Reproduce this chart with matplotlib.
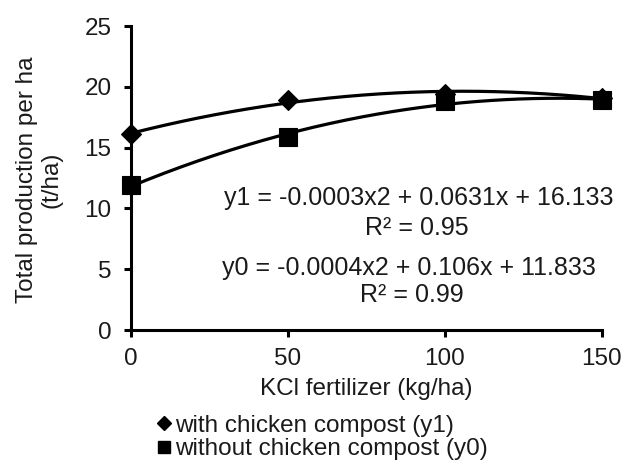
import numpy as np
import matplotlib
matplotlib.use("Agg")
import matplotlib.pyplot as plt
from matplotlib.lines import Line2D

plt.rcParams['font.family'] = ['Liberation Sans', 'DejaVu Sans']

kcl = [0, 50, 100, 150]
with_compost = [16.1, 18.9, 19.4, 19.1]
without_compost = [11.9, 15.9, 18.8, 18.9]
label_y1 = "with chicken compost (y1)"
label_y0 = "without chicken compost (y0)"
eq_y1 = "y1 = -0.0003x2 + 0.0631x + 16.133"
r2_y1 = "R² = 0.95"
eq_y0 = "y0 = -0.0004x2 + 0.106x + 11.833"
r2_y0 = "R² = 0.99"

TXT = '#1a1a1a'
FS = 17.5

fig = plt.figure(figsize=(6.41, 4.62), dpi=100)
ax = fig.add_axes([0.2044, 0.2857, 0.7346, 0.658])

xs = np.linspace(0, 150, 200)
for vals, marker, ms in [(with_compost, 'D', 10.5), (without_compost, 's', 12.5)]:
    c = np.polyfit(kcl, vals, 2)
    ax.plot(xs, np.polyval(c, xs), color='black', lw=2.3, zorder=2)
    ax.plot(kcl, vals, linestyle='none', marker=marker, ms=ms, color='black',
            mec='black', mew=0.8, zorder=3, clip_on=False)

ax.set_xlim(0, 150)
ax.set_ylim(0, 25)
ax.set_xticks([0, 50, 100, 150])
ax.set_yticks([0, 5, 10, 15, 20, 25])
for s in ['top', 'right']:
    ax.spines[s].set_visible(False)
for s in ['left', 'bottom']:
    ax.spines[s].set_linewidth(2.2)
ax.tick_params(axis='both', width=2.2, length=5, labelsize=FS, colors='black',
               labelcolor=TXT)
ax.tick_params(axis='y', pad=9)
ax.tick_params(axis='x', pad=8)
ax.set_xlabel("KCl fertilizer (kg/ha)", fontsize=FS, color=TXT, labelpad=6)
fig.text(39.5 / 641, 1 - 180 / 462, "Total production per ha\n(t/ha)", rotation=90,
         ha='center', va='center', fontsize=FS, color=TXT, linespacing=1.17)

def px(x, y):
    return ((x - 131) / 471, (330 - y) / 304)

for txt, (x, y) in [(eq_y1, (419, 198)), (r2_y1, (417, 228)),
                    (eq_y0, (409, 268)), (r2_y0, (412, 295))]:
    ax.text(*px(x, y), txt, transform=ax.transAxes, ha='center', va='center',
            fontsize=18, color=TXT)

handles = [Line2D([], [], linestyle='none', marker='D', ms=7, color='black'),
           Line2D([], [], linestyle='none', marker='s', ms=9, color='black')]
leg = fig.legend(handles, [label_y1, label_y0], loc='center left',
                 bbox_to_anchor=(157 / 641, 1 - 437.5 / 462),
                 frameon=False, fontsize=FS, handlelength=0.55, handletextpad=0.2,
                 labelspacing=0.05, borderpad=0, borderaxespad=0)
for t in leg.get_texts():
    t.set_color(TXT)

fig.savefig("out.png", dpi=100)
